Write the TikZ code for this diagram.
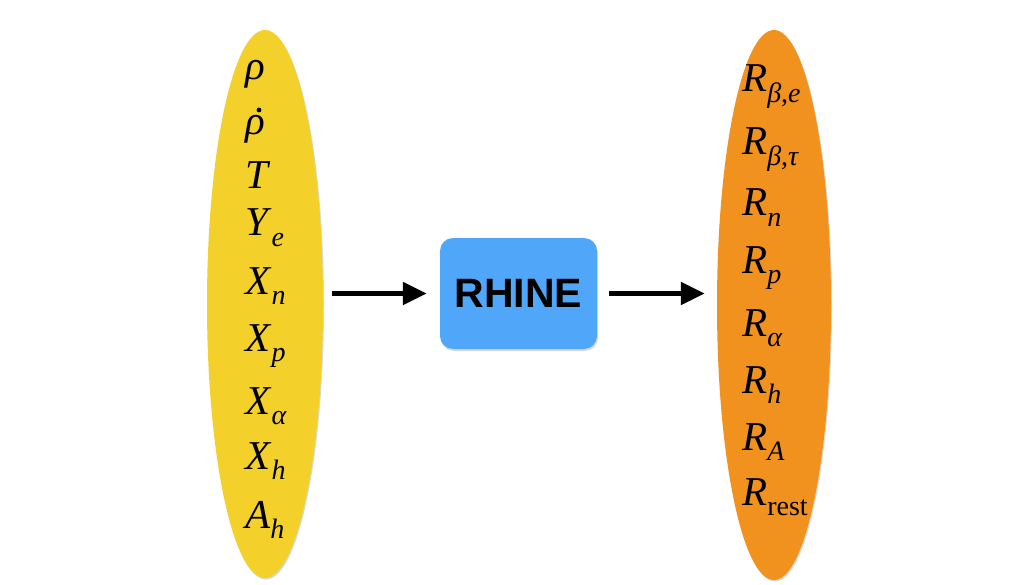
\documentclass[tikz,border=0pt]{standalone}
\usepackage{fontspec}
\setmainfont{Liberation Serif}
\newfontfamily\rhinefont{Liberation Sans}
\usetikzlibrary{shapes.geometric,shadows,arrows.meta,calc}
\definecolor{yel}{HTML}{F4D02B}
\definecolor{org}{HTML}{F1911E}
\definecolor{blu}{HTML}{50A6F8}
\newcommand\msub[1]{\raisebox{-0.26em}{\fontsize{28}{28}\selectfont #1}}
\newcommand\mv[1]{\textit{#1}}
\begin{document}
\begin{tikzpicture}[x=1pt,y=-1pt,
  lbl/.style={anchor=base west,inner sep=0pt,font=\fontsize{41}{41}\selectfont},
  blob/.style={ellipse,draw=none,inner sep=0pt,minimum width=116pt,minimum height=548pt,
    drop shadow={shadow xshift=1pt,shadow yshift=-1.5pt,opacity=0.3}},
  arr/.style={line width=5pt,-{Triangle[length=24pt,width=22pt]}}]
\useasboundingbox (0,0) rectangle (1024,585);
\fill[white] (0,0) rectangle (1024,585);
\node[blob,fill=yel] (inp) at (265,304) {};
\node[blob,fill=org,minimum width=114pt,minimum height=550pt] (out) at (774,305) {};
\node[fill=blu,rounded corners=13pt,minimum width=157pt,minimum height=111pt,inner sep=0pt,
  drop shadow={shadow xshift=1pt,shadow yshift=-2pt,opacity=0.3},
  font=\rhinefont\bfseries\fontsize{41}{41}\selectfont] (box) at (518.5,293.5) {RHINE};
\coordinate (a1) at ($(inp.east |- box.west)+(9,0)$);
\coordinate (a2) at ($(box.west)+(-13,0)$);
\coordinate (b1) at ($(box.east)+(12,0)$);
\coordinate (b2) at ($(out.west |- box.east)+(-12,0)$);
\draw[arr] (a1) -- (a2);
\draw[arr] (b1) -- (b2);
% inputs
\node[lbl] (i1) at (245,80) {\mv{ρ}};
\node[lbl] (i2) at (245,135) {\mv{ρ}};
\fill ($(i2.base west)+(14,-25)$) circle (2.4);
\node[lbl] (i3) at (245,189) {\mv{T}};
\node[lbl] (i4) at (245,236) {\mv{Y}\msub{\mv{e}}};
\node[lbl] (i5) at (245,294) {\mv{X}\msub{\mv{n}}};
\node[lbl] (i6) at (245,351) {\mv{X}\msub{\mv{p}}};
\node[lbl] (i7) at (245,414) {\mv{X}\msub{\mv{α}}};
\node[lbl] (i8) at (245,469) {\mv{X}\msub{\mv{h}}};
\node[lbl] (i9) at (245,528) {\mv{A}\msub{\mv{h}}};
% outputs
\node[lbl] (o1) at (742,92) {\mv{R}\msub{\mv{β},\mv{e}}};
\node[lbl] (o2) at (742,155) {\mv{R}\msub{\mv{β},\mv{τ}}};
\node[lbl] (o3) at (742,216) {\mv{R}\msub{\mv{n}}};
\node[lbl] (o4) at (742,273) {\mv{R}\msub{\mv{p}}};
\node[lbl] (o5) at (742,336) {\mv{R}\msub{\mv{α}}};
\node[lbl] (o6) at (742,393) {\mv{R}\msub{\mv{h}}};
\node[lbl] (o7) at (742,450) {\mv{R}\msub{\mv{A}}};
\node[lbl] (o8) at (742,505) {\mv{R}\msub{rest}};
\end{tikzpicture}
\end{document}
